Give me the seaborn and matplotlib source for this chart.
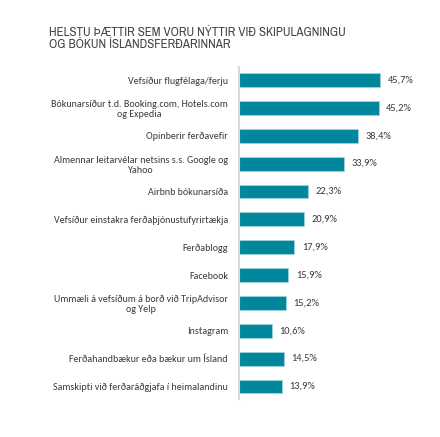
import numpy as np
import pandas as pd
import matplotlib
matplotlib.use("Agg")
import matplotlib.pyplot as plt
from matplotlib import font_manager
import seaborn as sns

# Gögn
flokkar = [
    "Vefsíður flugfélaga/ferju",
    "Bókunarsíður t.d. Booking.com, Hotels.com\nog Expedia",
    "Opinberir ferðavefir",
    "Almennar leitarvélar netsins s.s. Google og\nYahoo",
    "Airbnb bókunarsíða",
    "Vefsíður einstakra ferðaþjónustufyrirtækja",
    "Ferðablogg",
    "Facebook",
    "Ummæli á vefsíðum á borð við TripAdvisor\nog Yelp",
    "Instagram",
    "Ferðahandbækur eða bækur um Ísland",
    "Samskipti við ferðaráðgjafa í heimalandinu",
]
hlutfall = [45.7, 45.2, 38.4, 33.9, 22.3, 20.9, 17.9, 15.9, 15.2, 10.6, 14.5, 13.9]
titill = "HELSTU ÞÆTTIR SEM VORU NÝTTIR VIÐ SKIPULAGNINGU\nOG BÓKUN ÍSLANDSFERÐARINNAR"


def fyrsta_til(listi):
    for nafn in listi:
        try:
            font_manager.findfont(nafn, fallback_to_default=False)
            return nafn
        except ValueError:
            pass
    return "DejaVu Sans"


meginletur = fyrsta_til(["Carlito", "Lato"])
titilletur = fyrsta_til(["Arial Narrow", "Liberation Sans Narrow", "Archivo Narrow",
                         "Roboto Condensed", "PT Sans Narrow", "Liberation Sans"])

df = pd.DataFrame({"flokkur": flokkar, "hlutfall": hlutfall})

sns.set_style("white")
plt.rcParams["font.family"] = [meginletur, "DejaVu Sans"]

fig = plt.figure(figsize=(4.4, 4.37), dpi=100)
ax = fig.add_axes([239 / 440, 1 - 399 / 437, 0.40, (399 - 67) / 437])

sns.barplot(data=df, x="hlutfall", y="flokkur", color="#00879C",
            width=0.5, edgecolor="#9fd3dc", linewidth=0.6, saturation=1, ax=ax)

ax.set_xlim(0, 57)
ax.set_ylim(11.45, -0.47)
ax.set_xlabel("")
ax.set_ylabel("")
ax.set_xticks([])
ax.tick_params(axis="y", length=0, pad=8, labelsize=7.2, labelcolor="#3a3a3a")
for lab in ax.get_yticklabels():
    lab.set_multialignment("center")

for s in ["top", "right", "bottom"]:
    ax.spines[s].set_visible(False)
ax.spines["left"].set_color("#d9d9d9")
ax.spines["left"].set_linewidth(1.5)

for i, v in enumerate(hlutfall):
    ax.text(v + 2.5, i, f"{v:.1f}%".replace(".", ","), va="center", ha="left",
            fontsize=7.5, color="#3a3a3a")

t = fig.text(49 / 440, 1 - 27 / 437, titill, ha="left", va="top", fontsize=9.5,
             color="#454545", family=[titilletur, "DejaVu Sans"], linespacing=1.15)

# passa breidd titils (um 296 px eins og í fyrirmynd)
fig.canvas.draw()
w = t.get_window_extent(fig.canvas.get_renderer()).width
t.set_fontsize(9.5 * 296 / w)

fig.savefig("out.png", dpi=100)
